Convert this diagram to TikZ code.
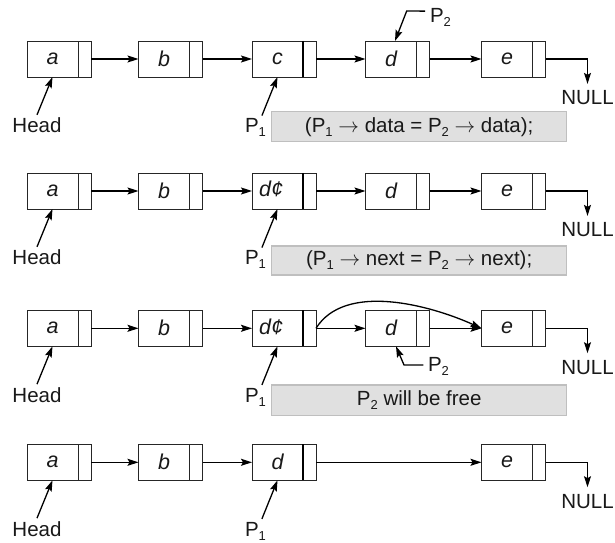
\documentclass[tikz,border=0pt]{standalone}
\usepackage{fontspec}
\setmainfont{Liberation Sans}
\usetikzlibrary{arrows.meta}
\newcommand{\subx}[1]{\raisebox{-4bp}{\fontsize{13bp}{13bp}\selectfont #1}}
\begin{document}
\begin{tikzpicture}[x=1bp,y=-1bp,
  every node/.style={font=\fontsize{20.5bp}{24bp}\selectfont, inner sep=0pt, outer sep=0pt, text=black!90},
  cell/.style={draw=black!85, line width=0.8bp, minimum width=51bp, minimum height=36bp, font=\fontsize{21.5bp}{24bp}\selectfont\itshape},
  ptr/.style={draw=black!85, line width=0.8bp, minimum width=13bp, minimum height=36bp},
  arr/.style={line width=1.3bp, -{Stealth[length=11bp,width=7bp,inset=2bp]}},
  thickdiv/.style={line width=1.8bp},
  greybox/.style={fill=black!12, draw=black!25, line width=1.2bp, minimum width=295bp},
  lbl/.style={anchor=base},
  lblw/.style={anchor=base west}
]
\useasboundingbox (0,0) rectangle (615,543);

% ---------------- Row 1 ----------------
\node[cell] (r1a) at (52.5,59) {a};
\node[ptr,anchor=west] (r1ap) at (r1a.east) {};
\node[cell] (r1b) at (164,59) {b};
\node[ptr,anchor=west] (r1bp) at (r1b.east) {};
\node[cell] (r1c) at (277.5,59) {c};
\node[ptr,anchor=west] (r1cp) at (r1c.east) {};
\node[cell] (r1d) at (391,59) {d};
\node[ptr,anchor=west] (r1dp) at (r1d.east) {};
\node[cell] (r1e) at (507,59) {e};
\node[ptr,anchor=west] (r1ep) at (r1e.east) {};
\draw[thickdiv] (r1cp.north west) -- (r1cp.south west);
\draw[arr] (r1ap.east) -- (r1b.west);
\draw[arr] (r1bp.east) -- (r1c.west);
\draw[arr] (r1cp.east) -- (r1d.west);
\draw[arr] (r1dp.east) -- (r1e.west);
\node[lbl] (r1n) at (587.5,105) {NULL};
\draw[arr] (r1ep.east) -| ([yshift=7bp]r1n.north);
\node[lbl] (r1h) at (37,132.7) {Head};
\draw[arr] ([yshift=3bp]r1h.north) -- (r1a.south);
\node[lblw] (r1p) at (245,132.7) {P\subx{1}};
\draw[arr] ([xshift=-4bp,yshift=3bp]r1p.north east) -- (r1c.south);
\node[greybox, minimum height=30bp] (g1) at (419.2,126.7) {(P\subx{1} $\rightarrow$ data = P\subx{2} $\rightarrow$ data);};
\node[lblw] (r1q) at (430,22.7) {P\subx{2}};
\coordinate (r1k) at (406.7,11);
\draw[arr] ([xshift=-5bp,yshift=6.5bp]r1q.west) -- (r1k) -- ([xshift=4bp]r1d.north);

% ---------------- Row 2 ----------------
\node[cell] (r2a) at (52.5,191) {a};
\node[ptr,anchor=west] (r2ap) at (r2a.east) {};
\node[cell] (r2b) at (164,191) {b};
\node[ptr,anchor=west] (r2bp) at (r2b.east) {};
\node[cell] (r2c) at (277.5,191) {\hspace*{-13bp}\raisebox{4bp}{d¢}};
\node[ptr,anchor=west] (r2cp) at (r2c.east) {};
\node[cell] (r2d) at (391,191) {d};
\node[ptr,anchor=west] (r2dp) at (r2d.east) {};
\node[cell] (r2e) at (507,191) {e};
\node[ptr,anchor=west] (r2ep) at (r2e.east) {};
\draw[thickdiv] (r2cp.north west) -- (r2cp.south west);
\draw[arr] (r2ap.east) -- (r2b.west);
\draw[arr] (r2bp.east) -- (r2c.west);
\draw[arr] (r2cp.east) -- (r2d.west);
\draw[arr] (r2dp.east) -- (r2e.west);
\node[lbl] (r2n) at (587.5,237) {NULL};
\draw[arr] (r2ep.east) -| ([yshift=7bp]r2n.north);
\node[lbl] (r2h) at (37,264.7) {Head};
\draw[arr] ([yshift=3bp]r2h.north) -- (r2a.south);
\node[lblw] (r2p) at (245,264.7) {P\subx{1}};
\draw[arr] ([xshift=-4bp,yshift=3bp]r2p.north east) -- (r2c.south);
\node[greybox, minimum height=29bp] (g2) at (419.2,260.5) {(P\subx{1} $\rightarrow$ next = P\subx{2} $\rightarrow$ next);};

% ---------------- Row 3 ----------------
\node[cell] (r3a) at (52.5,328.3) {a};
\node[ptr,anchor=west] (r3ap) at (r3a.east) {};
\node[cell] (r3b) at (164,328.3) {b};
\node[ptr,anchor=west] (r3bp) at (r3b.east) {};
\node[cell] (r3c) at (277.5,328.3) {\hspace*{-13bp}\raisebox{4bp}{d¢}};
\node[ptr,anchor=west] (r3cp) at (r3c.east) {};
\node[cell] (r3d) at (391,328.3) {d};
\node[ptr,anchor=west] (r3dp) at (r3d.east) {};
\node[cell] (r3e) at (507,328.3) {e};
\node[ptr,anchor=west] (r3ep) at (r3e.east) {};
\draw[thickdiv] (r3cp.north west) -- (r3cp.south west);
\draw[arr] (r3ap.east) -- (r3b.west);
\draw[arr] (r3bp.east) -- (r3c.west);
\draw[arr] (r3cp.east) -- (r3d.west);
\draw[arr] (r3dp.east) -- (r3e.west);
\draw[arr] (r3cp.east) .. controls (345,282) and (430,305) .. (r3e.west);
\node[lbl] (r3n) at (587.5,374.3) {NULL};
\draw[arr] (r3ep.east) -| ([yshift=7bp]r3n.north);
\node[lbl] (r3h) at (37,402) {Head};
\draw[arr] ([yshift=3bp]r3h.north) -- (r3a.south);
\node[lblw] (r3p) at (245,402) {P\subx{1}};
\draw[arr] ([xshift=-4bp,yshift=3bp]r3p.north east) -- (r3c.south);
\node[greybox, minimum height=30.7bp] (g3) at (419.2,400.3) {P\subx{2} will be free};
\node[lblw] (r3q) at (428,371.7) {P\subx{2}};
\coordinate (r3k) at (404,365);
\draw[arr] ([xshift=-4.7bp,yshift=1.6bp]r3q.west) -- (r3k) -- ([xshift=5bp]r3d.south);

% ---------------- Row 4 ----------------
\node[cell] (r4a) at (52.5,462.3) {a};
\node[ptr,anchor=west] (r4ap) at (r4a.east) {};
\node[cell] (r4b) at (164,462.3) {b};
\node[ptr,anchor=west] (r4bp) at (r4b.east) {};
\node[cell] (r4c) at (277.5,462.3) {d};
\node[ptr,anchor=west] (r4cp) at (r4c.east) {};
\node[cell] (r4e) at (507,462.3) {e};
\node[ptr,anchor=west] (r4ep) at (r4e.east) {};
\draw[thickdiv] (r4cp.north west) -- (r4cp.south west);
\draw[arr] (r4ap.east) -- (r4b.west);
\draw[arr] (r4bp.east) -- (r4c.west);
\draw[arr] (r4cp.east) -- (r4e.west);
\node[lbl] (r4n) at (587.5,508.3) {NULL};
\draw[arr] (r4ep.east) -| ([yshift=7bp]r4n.north);
\node[lbl] (r4h) at (37,536) {Head};
\draw[arr] ([yshift=3bp]r4h.north) -- (r4a.south);
\node[lblw] (r4p) at (245,536) {P\subx{1}};
\draw[arr] ([xshift=-4bp,yshift=3bp]r4p.north east) -- (r4c.south);
\end{tikzpicture}
\end{document}
